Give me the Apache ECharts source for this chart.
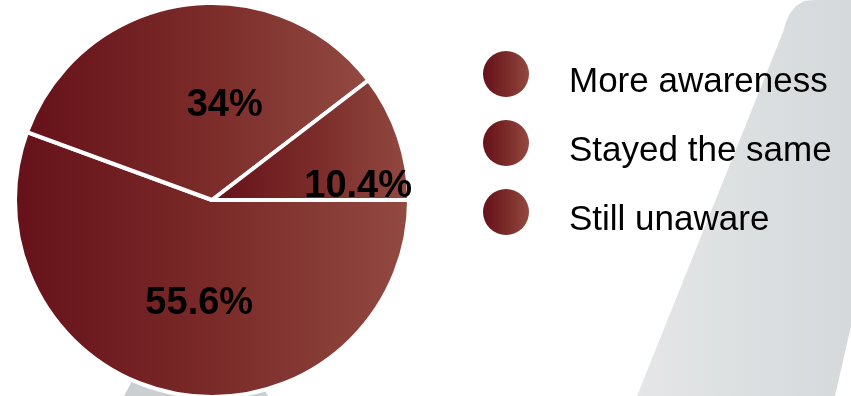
<!DOCTYPE html>
<html>
<head>
<meta charset="utf-8">
<title>Awareness</title>
<script src="https://cdn.jsdelivr.net/npm/echarts@6/dist/echarts.min.js"></script>
<style>
  html, body { margin: 0; padding: 0; background: #ffffff; }
  #chart { width: 851px; height: 396px; }
</style>
</head>
<body>
<div id="chart"></div>
<script>
// Survey answers and their shares (percent)
const categories = ['More awareness', 'Stayed the same', 'Still unaware'];
const shares = [55.6, 34, 10.4];

// Small nudges for the in-slice percentage labels (dx, dy in px)
const labelNudge = [[5, 4], [28, 6], [50, 19]];

const FONT = '"Liberation Sans", Arial, sans-serif';

// Maroon fill, dark on the left and warmer on the right of each shape
const maroon = {
  type: 'linear', x: 0, y: 0, x2: 1, y2: 0,
  colorStops: [
    { offset: 0, color: '#66111a' },
    { offset: 0.5, color: '#7a2a28' },
    { offset: 1, color: '#924a41' }
  ]
};

const bandFill = {
  type: 'linear', x: 0, y: 0, x2: 1, y2: 0,
  colorStops: [
    { offset: 0, color: '#e4e6e7' },
    { offset: 1, color: '#d5d9db' }
  ]
};

const chart = echarts.init(document.getElementById('chart'), null, { renderer: 'canvas' });

chart.setOption({
  backgroundColor: '#ffffff',
  animation: false,
  graphic: [
    {
      // slanted grey band on the right, rounded at its top-left corner
      type: 'polygon',
      z: -10,
      silent: true,
      shape: {
        points: [[637, 396], [783, 32], [786, 22], [790, 13], [796, 6], [804, 1], [814, 0],
                 [851, 0], [851, 326], [835, 396]]
      },
      style: { fill: bandFill }
    },
    {
      // grey base peeking out under the pie
      type: 'polygon',
      z: -10,
      silent: true,
      shape: { points: [[137, 372], [254, 372], [268, 396], [124, 396]] },
      style: { fill: '#cbcfd1' }
    }
  ],
  legend: {
    data: categories,
    orient: 'vertical',
    left: 483,
    top: 48,
    padding: 0,
    itemWidth: 46,
    itemHeight: 46,
    itemGap: 17,
    icon: 'circle',
    selectedMode: false,
    itemStyle: { borderWidth: 0 },
    formatter: name => '{t|' + name + '}',
    textStyle: {
      fontFamily: FONT,
      fontSize: 35,
      color: '#000000',
      rich: {
        t: {
          fontFamily: FONT,
          fontSize: 35,
          color: '#000000',
          lineHeight: 40,
          padding: [17, 0, 0, 35]
        }
      }
    }
  },
  series: [
    {
      type: 'pie',
      center: [212, 200],
      radius: [0, 197],
      startAngle: 0,
      clockwise: true,
      avoidLabelOverlap: false,
      silent: true,
      emphasis: { disabled: true },
      itemStyle: {
        color: maroon,
        borderColor: '#ffffff',
        borderWidth: 4
      },
      label: {
        show: true,
        position: 'inside',
        formatter: p => p.value + '%',
        fontFamily: FONT,
        fontSize: 38,
        fontWeight: 'bold',
        color: '#000000'
      },
      labelLine: { show: false },
      labelLayout: p => {
        const n = labelNudge[p.dataIndex];
        return { dx: n[0], dy: n[1] };
      },
      data: categories.map((name, i) => ({ name: name, value: shares[i] }))
    }
  ]
});
</script>
</body>
</html>
